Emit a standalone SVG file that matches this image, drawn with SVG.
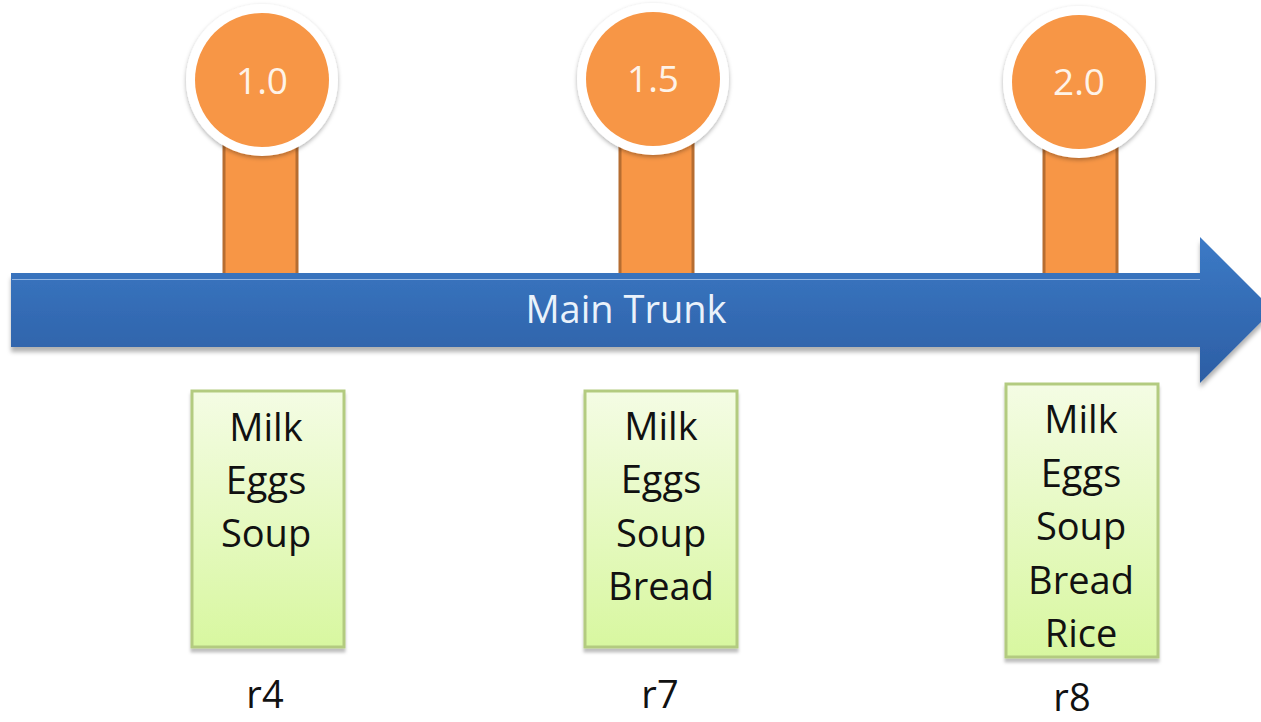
<svg xmlns="http://www.w3.org/2000/svg" width="1261" height="722" viewBox="0 0 1261 722">
  <style>
    .stem { fill: #F79646; stroke: #B66D31; stroke-width: 3; }
    .ring { fill: #FFFFFF; filter: url(#ringShadow); }
    .tag { fill: #F79646; }
    .tagText { font-family: "Open Sans", "Liberation Sans", sans-serif; font-size: 37px; fill: #FEF3E8; text-anchor: middle; }
    .trunkText { font-family: "Open Sans", "Liberation Sans", sans-serif; font-size: 38px; fill: #EAF2FB; text-anchor: middle; }
    .box { fill: url(#boxGrad); stroke: #B3CB80; stroke-width: 3; filter: url(#boxShadow); }
    .boxText { font-family: "Open Sans", "Liberation Sans", sans-serif; font-size: 38px; fill: #111111; text-anchor: middle; }
    .rev { font-family: "Open Sans", "Liberation Sans", sans-serif; font-size: 38px; fill: #111111; text-anchor: middle; }
  </style>
  <defs>
    <linearGradient id="trunkGrad" x1="0" y1="0" x2="0" y2="1">
      <stop offset="0" stop-color="#3C7AC6"/>
      <stop offset="1" stop-color="#2C5EA4"/>
    </linearGradient>
    <linearGradient id="boxGrad" x1="0" y1="0" x2="0" y2="1">
      <stop offset="0" stop-color="#F4FCE4"/>
      <stop offset="1" stop-color="#D8F7A0"/>
    </linearGradient>
    <filter id="ringShadow" x="-20%" y="-20%" width="140%" height="140%">
      <feDropShadow dx="0" dy="2" stdDeviation="2" flood-color="#000000" flood-opacity="0.3"/>
    </filter>
    <filter id="boxShadow" x="-10%" y="-10%" width="120%" height="120%">
      <feDropShadow dx="0" dy="4" stdDeviation="1.5" flood-color="#000000" flood-opacity="0.25"/>
    </filter>
    <filter id="trunkShadow" x="-5%" y="-20%" width="110%" height="140%">
      <feDropShadow dx="0" dy="5" stdDeviation="2" flood-color="#000000" flood-opacity="0.3"/>
    </filter>
  </defs>
  <rect width="1261" height="722" fill="#FFFFFF"/>

  <g id="connectors">
    <rect class="stem" x="224" y="130" width="73" height="145"/>
    <rect class="stem" x="620" y="130" width="73" height="145"/>
    <rect class="stem" x="1044" y="130" width="73" height="145"/>
  </g>

  <g id="node-trunk">
    <path d="M11 273 H1200 V237 L1273 310 L1200 383 V347 H11 Z" fill="url(#trunkGrad)" filter="url(#trunkShadow)"/>
    <line x1="12" y1="279.5" x2="1200" y2="279.5" stroke="#8FB4E3" stroke-width="1.2"/>
    <text class="trunkText" x="626" y="323">Main Trunk</text>
  </g>

  <g id="node-v1-0">
    <circle class="ring" cx="262" cy="80" r="76"/>
    <circle class="tag" cx="262" cy="80" r="67"/>
    <text class="tagText" x="262" y="94">1.0</text>
  </g>
  <g id="node-v1-5">
    <circle class="ring" cx="653" cy="79" r="76"/>
    <circle class="tag" cx="653" cy="79" r="67"/>
    <text class="tagText" x="653" y="92">1.5</text>
  </g>
  <g id="node-v2-0">
    <circle class="ring" cx="1079" cy="82" r="76"/>
    <circle class="tag" cx="1079" cy="82" r="67"/>
    <text class="tagText" x="1079" y="95">2.0</text>
  </g>

  <g id="node-r4">
    <rect class="box" x="192" y="391" width="152" height="256"/>
    <text class="boxText" x="266" y="441">Milk</text>
    <text class="boxText" x="266" y="494">Eggs</text>
    <text class="boxText" x="266" y="547">Soup</text>
    <text class="rev" x="265" y="708">r4</text>
  </g>
  <g id="node-r7">
    <rect class="box" x="585" y="391" width="152" height="256"/>
    <text class="boxText" x="661" y="440">Milk</text>
    <text class="boxText" x="661" y="493">Eggs</text>
    <text class="boxText" x="661" y="547">Soup</text>
    <text class="boxText" x="661" y="600">Bread</text>
    <text class="rev" x="660" y="708">r7</text>
  </g>
  <g id="node-r8">
    <rect class="box" x="1006" y="384" width="152" height="273"/>
    <text class="boxText" x="1081" y="433">Milk</text>
    <text class="boxText" x="1081" y="487">Eggs</text>
    <text class="boxText" x="1081" y="540">Soup</text>
    <text class="boxText" x="1081" y="594">Bread</text>
    <text class="boxText" x="1081" y="647">Rice</text>
    <text class="rev" x="1072" y="711">r8</text>
  </g>
</svg>
